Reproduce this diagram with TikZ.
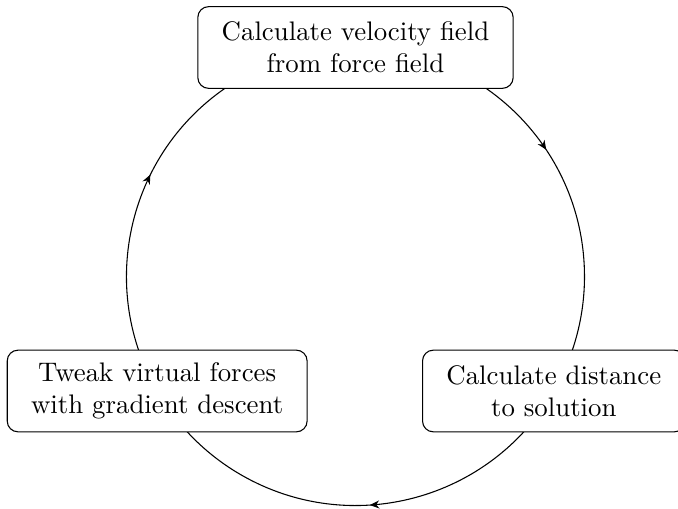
\documentclass[tikz,border=0pt]{standalone}
\usetikzlibrary{arrows.meta,decorations.markings,backgrounds}

\tikzset{
  stage/.style={draw, rounded corners, fill=white, align=center,
    inner xsep=8.9pt, inner ysep=3pt, minimum height=1.07cm},
  flow/.style={postaction={decorate}, decoration={markings,
    mark=at position 0.47 with {\arrow{Stealth[length=3.5pt,width=3pt]}}}}
}

\begin{document}
\begin{tikzpicture}

\useasboundingbox (-4.657,-3.033) rectangle (4.225,3.622);

\node[stage] (velocity) at (90:3) {Calculate velocity field\\from force field};
\node[stage] (distance) at (-30:3) {Calculate distance\\to solution};
\node[stage] (tweak) at (210:3) {Tweak virtual forces\\with gradient descent};

\begin{scope}[on background layer]
\draw[flow] (velocity.center) arc (90:-30:3);
\draw[flow] (distance.center) arc (-30:-150:3);
\draw[flow] (tweak.center) arc (210:90:3);
\end{scope}

\end{tikzpicture}
\end{document}
